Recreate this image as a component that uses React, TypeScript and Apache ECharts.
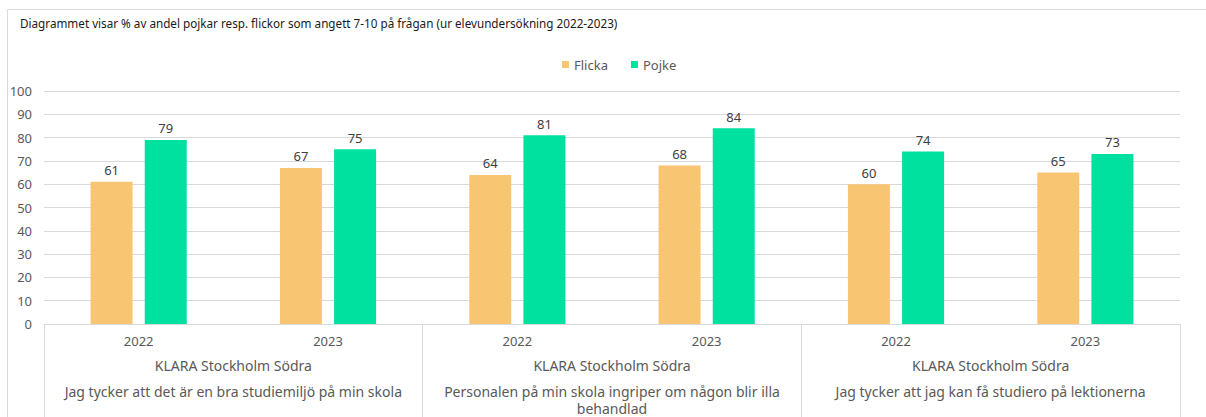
import React, { useEffect, useRef } from "react";
import * as echarts from "echarts";

const years = ["2022", "2023", "2022", "2023", "2022", "2023"];
const schools = ["KLARA Stockholm Södra", "KLARA Stockholm Södra", "KLARA Stockholm Södra"];
const questions = [
  "Jag tycker att det är en bra studiemiljö på min skola",
  "Personalen på min skola ingriper om någon blir illa\nbehandlad",
  "Jag tycker att jag kan få studiero på lektionerna",
];
const flicka = [61, 67, 64, 68, 60, 65];
const pojke = [79, 75, 81, 84, 74, 73];
const yTicks = { min: 0, max: 100, interval: 10 };
const titleText =
  "Diagrammet visar % av andel pojkar resp. flickor som angett 7-10 på frågan (ur elevundersökning 2022-2023)";

const FONT = "'Noto Sans', sans-serif";
const GRAY = "#595959";
const LINE = "#d9d9d9";

export default function App() {
  const ref = useRef<HTMLDivElement>(null);
  useEffect(() => {
    if (!ref.current) return;
    const chart = echarts.init(ref.current, undefined, { renderer: "svg" });
    chart.setOption({
      animation: false,
      textStyle: { fontFamily: FONT },
      graphic: [
        {
          type: "rect",
          shape: { x: 7.5, y: 9.5, width: 1400, height: 600 },
          style: { fill: "none", stroke: LINE, lineWidth: 1 },
          silent: true,
        },
        {
          type: "text",
          left: 20,
          top: 17,
          style: { text: titleText, fontSize: 11.7, fill: "#1a1a1a", fontFamily: FONT },
        },
      ],
      legend: {
        left: 557,
        top: 53,
        icon: "rect",
        itemWidth: 7,
        itemHeight: 7,
        itemGap: 23,
        textStyle: { fontSize: 13, color: GRAY, fontFamily: FONT },
        data: ["Flicka", "Pojke"],
      },
      grid: { left: 44, right: 26, top: 91, bottom: 90, containLabel: false },
      xAxis: [
        {
          type: "category",
          data: years,
          position: "bottom",
          axisLine: { show: true, lineStyle: { color: LINE } },
          axisTick: { show: false },
          axisLabel: { interval: 0, margin: 10, fontSize: 13, color: GRAY, fontFamily: FONT },
        },
        {
          type: "category",
          data: schools,
          position: "bottom",
          axisLine: { show: false },
          axisTick: { show: true, length: 95, lineStyle: { color: LINE } },
          axisLabel: { interval: 0, margin: 34, fontSize: 14, color: GRAY, fontFamily: FONT },
        },
        {
          type: "category",
          data: questions,
          position: "bottom",
          axisLine: { show: false },
          axisTick: { show: false },
          axisLabel: {
            interval: 0,
            margin: 59,
            fontSize: 14,
            lineHeight: 17,
            color: GRAY,
            fontFamily: FONT,
          },
        },
      ],
      yAxis: {
        type: "value",
        min: yTicks.min,
        max: yTicks.max,
        interval: yTicks.interval,
        axisLine: { show: false },
        axisTick: { show: false },
        splitLine: { lineStyle: { color: LINE } },
        axisLabel: { margin: 12, fontSize: 13, color: GRAY, fontFamily: FONT },
      },
      series: [
        {
          name: "Flicka",
          type: "bar",
          xAxisIndex: 0,
          data: flicka,
          barWidth: 42,
          barGap: "29%",
          itemStyle: { color: "#F8C673" },
          label: { show: true, position: "top", distance: 5, fontSize: 13, color: "#404040", fontFamily: FONT },
        },
        {
          name: "Pojke",
          type: "bar",
          xAxisIndex: 0,
          data: pojke,
          barWidth: 42,
          barGap: "29%",
          itemStyle: { color: "#00E09F" },
          label: { show: true, position: "top", distance: 5, fontSize: 13, color: "#404040", fontFamily: FONT },
        },
      ],
    });
    return () => chart.dispose();
  }, []);
  return (
    <div
      ref={ref}
      style={{ position: "fixed", left: 0, top: 0, width: 1206, height: 417, background: "#fff" }}
    />
  );
}
